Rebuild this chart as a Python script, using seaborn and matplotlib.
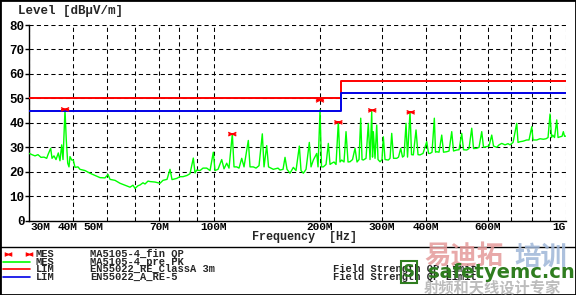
import matplotlib
matplotlib.use("Agg")
import numpy as np
import pandas as pd
import matplotlib.pyplot as plt
import matplotlib.transforms as mtransforms
from matplotlib.lines import Line2D
from matplotlib.patches import Rectangle
from matplotlib.path import Path
from matplotlib.ticker import NullLocator
import seaborn as sns

# ---------------- data ----------------
pre_freq_mhz = [
    30.0, 30.53, 31.14, 31.75, 32.38, 33.02, 33.61, 33.90, 34.50, 34.80,
    35.25, 35.72, 36.26, 36.66, 37.07, 37.39, 37.88, 38.20, 38.56, 38.88,
    39.14, 39.58, 39.99, 40.44, 41.24, 41.78, 43.17, 44.60, 46.09, 47.62,
    49.20, 50.17, 50.83, 52.52, 54.26, 56.07, 57.93, 59.07, 59.85, 61.04,
    61.84, 63.06, 63.89, 65.16, 66.01, 68.21, 70.47, 71.87, 73.77, 75.23,
    76.22, 78.60, 80.31, 81.90, 84.07, 85.73, 87.60, 88.58, 89.57, 91.52,
    93.33, 95.62, 97.70, 99.83, 100.94, 102.94, 105.46, 107.06, 108.96, 110.61,
    113.03, 114.29, 116.32, 118.08, 120.19, 122.01, 125.48, 126.88, 129.65, 131.96,
    134.57, 137.50, 139.04, 141.51, 143.19, 147.75, 152.36, 154.36, 157.42, 159.49,
    161.59, 164.78, 168.38, 171.37, 175.11, 177.06, 179.75, 182.95, 186.93, 189.02,
    191.88, 196.19, 197.87, 200.47, 202.44, 204.84, 208.49, 211.64, 214.01, 216.40,
    219.67, 222.56, 225.93, 228.46, 231.01, 234.51, 237.59, 240.72, 243.88, 247.90,
    251.98, 255.30, 258.66, 261.54, 263.78, 266.03, 270.75, 274.85, 277.92, 281.02,
    282.50, 283.98, 287.15, 290.35, 292.83, 296.68, 300.59, 303.15, 306.54, 313.22,
    316.72, 320.25, 324.04, 330.89, 334.80, 339.65, 343.67, 347.05, 351.62, 355.08,
    360.93, 364.48, 368.80, 375.36, 380.30, 385.30, 392.93, 402.55, 407.31, 411.32,
    416.73, 423.04, 426.37, 429.73, 436.23, 444.00, 449.25, 458.74, 465.69, 473.98,
    479.58, 489.72, 497.13, 505.98, 511.97, 522.79, 530.70, 540.15, 546.54, 558.08,
    566.54, 576.62, 583.44, 595.77, 604.79, 615.55, 622.83, 636.00, 645.63, 657.12,
    671.44, 684.74, 693.74, 707.48, 724.79, 730.97, 740.58, 755.25, 773.72, 785.44,
    799.42, 806.24, 825.97, 843.97, 862.37, 877.71, 889.26, 900.95, 909.82, 917.0,
    927.84, 941.27, 949.30, 961.79, 974.44, 982.75, 990.48, 1000.0,
]
pre_level = [
    27.5, 27, 26.5, 27, 25.9, 26, 25.5, 27, 29.6, 25.5,
    26.5, 25, 27.7, 24.5, 31, 25, 45.3, 33, 23.5, 22,
    26.2, 24.8, 24.8, 21.8, 22, 21, 20.5, 19.4, 18.5, 17.6,
    17.5, 18.9, 16.9, 16.5, 15.3, 14.5, 13.7, 14.5, 13.2, 14.3,
    14.6, 15.5, 15, 16.2, 16, 15.8, 15.3, 16.5, 16.9, 21,
    16.8, 17.3, 18, 18, 18.5, 19.2, 25.6, 19.5, 20.7, 20.5,
    21.5, 21.5, 20.5, 28, 20.5, 21, 25, 21.2, 23.5, 21.5,
    35.5, 22, 22, 21.5, 25.5, 22, 32.8, 22, 22, 21.5,
    22.5, 35.5, 22, 30.7, 22, 21, 21.5, 20.7, 21, 25.9,
    21, 19.4, 21.8, 20.5, 30.5, 20.5, 19.4, 21, 32, 22,
    24.8, 27.5, 22, 45.3, 22, 22, 23, 31.6, 23, 23.5,
    24, 23, 40.5, 24, 24.8, 24, 36.4, 24, 24.1, 25,
    29.6, 24, 25, 41.9, 25, 24.8, 25.5, 39.8, 25, 44.6,
    26, 36.4, 25.5, 39.1, 25, 24.1, 25, 34.3, 25, 24.8,
    25.5, 35.7, 25.5, 25.5, 26, 29.6, 26, 26.5, 39.8, 26,
    44.6, 27, 26.9, 37.1, 27, 26.9, 27.5, 32.3, 27.5, 27.5,
    28, 41.9, 28, 28.2, 28, 35, 28, 28.2, 28.5, 36.4,
    28.5, 28.9, 29, 35.7, 29, 28.9, 29.5, 37.8, 29.5, 29.6,
    30, 36.4, 30, 30.3, 30.5, 35, 30.5, 30, 31, 31.6,
    31, 31.5, 31, 32, 39.8, 32, 32.3, 32.5, 33, 33,
    38.4, 33, 33, 33.5, 33.3, 33.5, 34, 43.6, 34, 35,
    34, 41.2, 34, 34.3, 34.5, 36.4, 34.5, 34.6,
]
fin_freq_mhz = [37.9, 113.0, 200.4, 226.0, 282.0, 362.6]
fin_level = [45.5, 35.4, 49.2, 40.2, 45.1, 44.3]

lim_classa_freq = [30, 230, 1000]
lim_classa_level = [50, 57, 57]
lim_re5_freq = [30, 230, 1000]
lim_re5_level = [45, 52, 52]

grid_freqs = [30, 40, 50, 60, 70, 80, 90, 100, 200, 300, 400, 500, 600, 700, 800, 900, 1000]
x_tick_labels = ["30M", "40M", "50M", "", "70M", "", "", "100M", "200M", "300M",
                 "400M", "", "600M", "", "", "", "1G"]
y_ticks = [0, 10, 20, 30, 40, 50, 60, 70, 80]

legend_kind = ["MES", "MES", "LIM", "LIM"]
legend_name = ["MA5105-4_fin QP", "MA5105-4_pre PK", "EN55022_RE_ClassA 3m", "EN55022_A_RE-5"]
legend_desc = ["", "", "Field Strength QP Limit", "Field Strength QP Limit"]

# ---------------- style ----------------
sns.set_style("white")
plt.rcParams["font.family"] = ["Liberation Mono", "DejaVu Sans"]
plt.rcParams["font.weight"] = "bold"

W, H = 576, 295
fig = plt.figure(figsize=(W / 100, H / 100), dpi=100)
fig.patch.set_facecolor("white")

ax_l, ax_r, ax_t, ax_b = 29.3, 566.0, 25.0, 220.7
ax = fig.add_axes([ax_l / W, 1 - ax_b / H, (ax_r - ax_l) / W, (ax_b - ax_t) / H])
ax.set_xscale("log")
ax.set_facecolor("white")

bowtie = Path([(-1, -0.45), (1, 0.45), (-1, 0.45), (1, -0.45), (-1, 0), (1, 0)],
              [Path.MOVETO, Path.LINETO, Path.MOVETO, Path.LINETO, Path.MOVETO, Path.LINETO])

pre_df = pd.DataFrame({"freq": pre_freq_mhz, "level": pre_level})
sns.lineplot(data=pre_df, x="freq", y="level", ax=ax, color="#00ff00",
             linewidth=1.0, estimator=None, sort=False, zorder=3)
sns.lineplot(x=lim_classa_freq, y=lim_classa_level, ax=ax, color="#ff0000",
             linewidth=1.4, drawstyle="steps-post", estimator=None, zorder=4)
sns.lineplot(x=lim_re5_freq, y=lim_re5_level, ax=ax, color="#0000e6",
             linewidth=1.4, drawstyle="steps-post", estimator=None, zorder=4)
ax.scatter(fin_freq_mhz, fin_level, marker=bowtie, s=34, facecolors="none",
           edgecolors="#ff0000", linewidths=0.9, zorder=5)

ax.set_xlim(30, 1000)
ax.set_ylim(0, 80)
ax.set_xticks(grid_freqs)
ax.set_xticklabels(x_tick_labels)
ax.xaxis.set_minor_locator(NullLocator())
ax.set_yticks(y_ticks)
ax.set_yticklabels([str(v) for v in y_ticks])
ax.tick_params(axis="x", length=0, pad=1.0, labelsize=8, colors="black")
ax.tick_params(axis="y", left=True, length=3, width=1, pad=0.5, labelsize=9,
               colors="black", direction="out")
ax.grid(True, color="black", linestyle=(0, (4, 3)), linewidth=0.75)
ax.set_axisbelow(True)
for s in ["top", "right"]:
    ax.spines[s].set_visible(False)
for s in ["left", "bottom"]:
    ax.spines[s].set_color("black")
    ax.spines[s].set_linewidth(1.0)

# nudge crowded x tick labels like the reference
offsets = {"30M": ("left", 1), "40M": ("center", -6), "50M": ("center", -14), "1G": ("right", 0)}
for lab in ax.get_xticklabels():
    t = lab.get_text()
    if t in offsets:
        ha, dx = offsets[t]
        lab.set_horizontalalignment(ha)
        lab.set_transform(lab.get_transform() +
                          mtransforms.ScaledTranslation(dx / 100, 0, fig.dpi_scale_trans))

ax.set_xlabel("Frequency  [Hz]", fontsize=8.5, fontweight="bold", va="center")
ax.xaxis.set_label_coords((305 - ax_l) / (ax_r - ax_l), (ax_b - 237) / (ax_b - ax_t))
ax.set_ylabel("")
fig.text(18 / W, 1 - 11 / H, "Level [dBµV/m]", fontsize=9, fontweight="bold",
         ha="left", va="center")

# ---------------- legend block ----------------
fig.add_artist(Line2D([0, 1], [1 - 247.3 / H] * 2, transform=fig.transFigure,
                      color="black", linewidth=1.0))
row_y = [254.3, 262.0, 269.3, 276.7]
row_col = [None, "#00ff00", "#ff0000", "#0000e6"]
for i in range(4):
    yf = 1 - row_y[i] / H
    if i == 0:
        fig.add_artist(Line2D([7.5 / W, 29 / W], [yf, yf], transform=fig.transFigure,
                              linestyle="none", marker=bowtie, markersize=5.5,
                              markeredgecolor="#ff0000", markerfacecolor="none",
                              markeredgewidth=0.9))
    else:
        fig.add_artist(Line2D([3.3 / W, 30 / W], [yf, yf], transform=fig.transFigure,
                              color=row_col[i], linewidth=1.2))
    fig.text(36 / W, yf, legend_kind[i], fontsize=7.5, fontweight="bold", ha="left", va="center")
    fig.text(90 / W, yf, legend_name[i], fontsize=7.5, fontweight="bold", ha="left", va="center")
    if legend_desc[i]:
        fig.text(333 / W, yf, legend_desc[i], fontsize=7.5, fontweight="bold", ha="left", va="center")

# watermark seen over the legend
fig.text(424 / W, 1 - 257 / H, "易迪拓", fontsize=19, color="#e59a9a", alpha=0.85,
         family=["Noto Sans CJK SC"], fontweight="bold", ha="left", va="center", zorder=6)
fig.text(514 / W, 1 - 257 / H, "培训", fontsize=19, color="#9fb6d8", alpha=0.85,
         family=["Noto Sans CJK SC"], fontweight="bold", ha="left", va="center", zorder=6)
fig.text(409 / W, 1 - 272 / H, "S", fontsize=12, color="#2f7d1f",
         family=["DejaVu Sans"], fontweight="bold", ha="center", va="center", zorder=7,
         bbox=dict(boxstyle="square,pad=0.1", fc="none", ec="#2f7d1f", lw=1.5))
fig.text(428 / W, 1 - 273 / H, "safetyemc.cn", fontsize=14, color="#2f7d1f",
         family=["DejaVu Sans"], fontweight="bold", ha="left", va="center", zorder=7)
fig.text(424 / W, 1 - 288 / H, "射频和天线设计专家", fontsize=11, color="#b5b5b5",
         alpha=0.9, family=["Noto Sans CJK SC"], ha="left", va="center", zorder=6)

# outer frame
fig.add_artist(Rectangle((0, 0), 1, 1, transform=fig.transFigure, fill=False,
                         edgecolor="black", linewidth=2.0))

fig.savefig("out.png", dpi=100)
